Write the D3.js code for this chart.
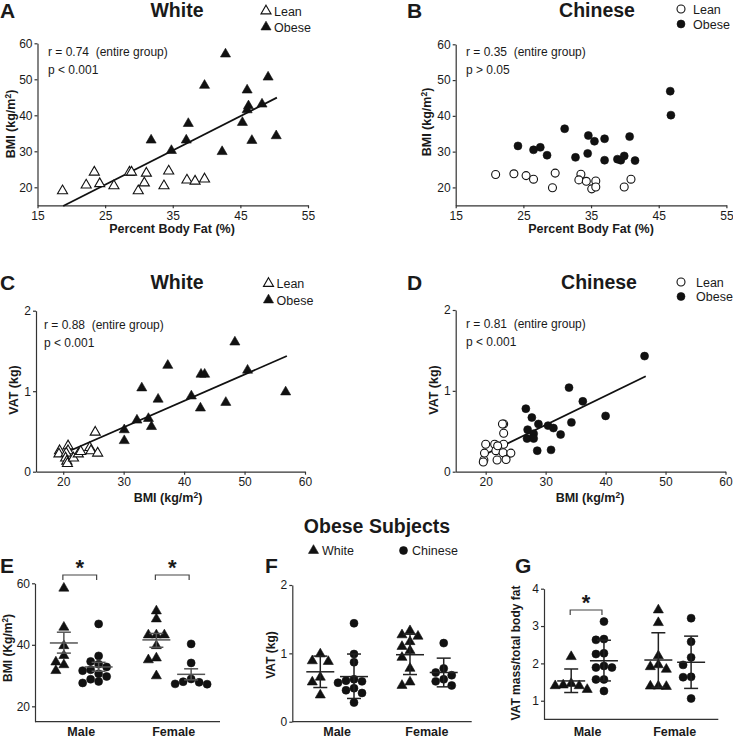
<!DOCTYPE html>
<html>
<head>
<meta charset="utf-8">
<script src="https://cdn.jsdelivr.net/npm/d3@7"></script>
<style>
  body { margin: 0; background: #fff; }
  svg { font-family: "Liberation Sans", Arial, sans-serif; }
</style>
</head>
<body>
<svg id="fig" width="733" height="739"></svg>
<script>
// ---- data ----
// A: White, percent body fat vs BMI
const whiteLeanFat   = [18.7, 22.2, 23.4, 24.2, 26.3, 28.6, 28.9, 29.9, 30.8, 31.1, 33.7, 34.4, 37.1, 38.3, 39.7];
const whiteLeanBmi   = [19.0, 20.6, 24.2, 21.0, 20.4, 24.2, 24.2, 19.0, 21.2, 23.9, 20.4, 24.5, 22.0, 21.7, 22.3];
const whiteObeseFat  = [31.8, 34.8, 37.0, 37.3, 39.7, 42.8, 42.3, 45.3, 46.0, 46.2, 46.0, 46.7, 48.2, 49.1, 50.3];
const whiteObeseBmi  = [33.1, 30.2, 33.1, 37.7, 48.3, 57.0, 29.9, 38.0, 47.0, 42.6, 41.5, 33.0, 43.1, 50.6, 34.3];
const fitA = [[18.8, 14.8], [50.4, 44.9]];

// B: Chinese, percent body fat vs BMI
const chineseLeanFat  = [20.9, 23.6, 25.4, 26.5, 29.3, 29.7, 33.5, 33.2, 34.3, 35.1, 35.7, 35.7, 39.9, 40.9];
const chineseLeanBmi  = [23.6, 23.8, 23.3, 22.3, 19.9, 24.0, 23.7, 22.1, 21.7, 19.6, 21.8, 20.1, 20.1, 22.3];
const chineseObeseFat = [24.2, 26.5, 27.5, 28.5, 31.1, 32.7, 34.5, 34.6, 35.5, 37.0, 37.0, 38.9, 39.4, 39.9, 40.7, 41.5, 46.7, 46.8];
const chineseObeseBmi = [31.6, 30.5, 31.2, 29.0, 36.4, 28.4, 29.5, 34.5, 32.9, 33.6, 27.6, 27.9, 27.6, 28.8, 34.2, 27.5, 46.9, 40.2];

// C: White, BMI vs VAT
const whiteLeanBmiC  = [19.4, 19.3, 20.8, 20.8, 20.5, 20.4, 20.6, 20.7, 21.7, 22.5, 22.9, 24.4, 24.6, 25.3, 25.7];
const whiteLeanVat   = [0.26, 0.22, 0.32, 0.26, 0.23, 0.17, 0.13, 0.10, 0.17, 0.22, 0.25, 0.30, 0.26, 0.49, 0.23];
const whiteObeseBmiC = [30.1, 30.1, 32.2, 33.0, 34.1, 34.6, 35.7, 37.3, 41.2, 42.7, 42.8, 43.4, 46.9, 48.4, 50.5, 56.8];
const whiteObeseVat  = [0.385, 0.52, 0.64, 1.04, 0.66, 0.56, 0.90, 1.32, 0.94, 0.79, 1.21, 1.21, 0.86, 1.61, 1.26, 0.99];
const fitC = [[19.6, 0.21], [57.0, 1.437]];

// D: Chinese, BMI vs VAT
const chineseLeanBmiD  = [19.7, 19.6, 19.8, 20.0, 21.5, 21.7, 21.9, 23.0, 22.8, 23.0, 23.0, 22.9, 24.2, 23.4, 22.0];
const chineseLeanVat   = [0.145, 0.12, 0.23, 0.34, 0.34, 0.26, 0.145, 0.59, 0.59, 0.475, 0.34, 0.235, 0.23, 0.15, 0.32];
const chineseObeseBmiD = [26.7, 27.0, 26.9, 27.7, 28.0, 28.0, 28.6, 28.8, 30.4, 31.3, 30.9, 32.5, 33.9, 34.3, 36.2, 40.0, 46.5];
const chineseObeseVat  = [0.78, 0.52, 0.41, 0.67, 0.47, 0.41, 0.26, 0.59, 0.57, 0.54, 0.27, 0.46, 1.04, 0.61, 0.87, 0.69, 1.43];
const fitD = [[19.8, 0.21], [46.7, 1.18]];

// E-G: obese subjects by sex and ethnicity (order: male white, male chinese, female white, female chinese)
const sexes = ["Male", "Female"];
const ethnicities = ["White", "Chinese"];

const bmiMaleWhite     = [58.4, 45.7, 39.7, 36.5, 34.4, 33.5, 31.6];
const bmiMaleChinese   = [46.8, 36.4, 34.6, 33.7, 32.8, 31.9, 31.6, 30.6, 29.7, 28.8, 28.1, 27.6];
const bmiFemaleWhite   = [51.0, 48.4, 43.2, 43.2, 43.2, 39.7, 35.7, 35.1, 29.9];
const bmiFemaleChinese = [40.3, 34.1, 28.9, 28.0, 27.8, 27.3, 27.2];
const bmiStats = [[40.6, 37.3, 44.1], [32.8, 31.4, 34.3], [41.6, 39.2, 43.7], [30.4, 28.6, 32.2]];

const vatMaleWhite     = [0.99, 0.89, 0.88, 0.65, 0.58, 0.39];
const vatMaleChinese   = [1.44, 0.99, 0.87, 0.62, 0.60, 0.59, 0.57, 0.49, 0.46, 0.42, 0.28];
const vatFemaleWhite   = [1.33, 1.27, 1.25, 1.17, 1.10, 1.04, 0.94, 0.78, 0.58, 0.53];
const vatFemaleChinese = [1.15, 0.78, 0.72, 0.68, 0.62, 0.59, 0.53];
const vatStats = [[0.73, 0.50, 0.96], [0.66, 0.34, 0.99], [0.98, 0.69, 1.28], [0.72, 0.51, 0.93]];

const ratioMaleWhite     = [2.18, 1.46, 1.42, 1.40, 1.40, 1.30];
const ratioMaleChinese   = [3.12, 2.65, 2.63, 2.27, 2.25, 1.93, 1.89, 1.89, 1.57, 1.57, 1.26];
const ratioFemaleWhite   = [3.43, 3.09, 2.20, 1.96, 1.91, 1.84, 1.39, 1.39, 1.38];
const ratioFemaleChinese = [3.21, 2.58, 2.16, 1.96, 1.64, 1.63, 1.06];
const ratioStats = [[1.53, 1.22, 1.85], [2.07, 1.53, 2.62], [2.09, 1.36, 2.82], [2.03, 1.33, 2.73]];

// ---- drawing ----
const svg = d3.select("#fig");
const ink = "#1a1a1a";
const tri = d3.symbol().type(d3.symbolTriangle).size(44)();
const dot = d3.symbol().type(d3.symbolCircle).size(50)();
const plain = d => String(d);

function styleAxis(g) {
  g.attr("font-family", null).attr("font-size", null);
  g.selectAll("path, line").attr("stroke", "#333").attr("stroke-width", 1.2);
  g.selectAll("text").attr("fill", ink).style("font-size", "12px");
}

function supLabel(t, pre, sup, post) {
  t.append("tspan").text(pre);
  t.append("tspan").attr("font-size", "0.68em").attr("dy", "-0.5em").text(sup);
  t.append("tspan").attr("dy", "0.34em").text(post);
}

function text(x, y, str, size, weight, anchor) {
  return svg.append("text").attr("x", x).attr("y", y)
    .attr("font-size", size).attr("font-weight", weight || "normal")
    .attr("text-anchor", anchor || "start").attr("fill", ink)
    .style("white-space", "pre").text(str);
}

function marker(g, shape, open, x, y) {
  g.append("path").attr("d", shape)
    .attr("transform", `translate(${x},${y})`)
    .attr("fill", open ? "#fff" : "#111")
    .attr("stroke", "#111").attr("stroke-width", open ? 1.1 : 0.6);
}

function scatterPanel(c) {
  const g = svg.append("g");
  const x = d3.scaleLinear().domain(c.xDomain).range(c.xRange);
  const y = d3.scaleLinear().domain(c.yDomain).range(c.yRange);

  g.append("g").attr("transform", `translate(0,${c.yRange[0]})`)
    .call(d3.axisBottom(x).tickValues(c.xTicks).tickFormat(plain).tickSize(3).tickPadding(3).tickSizeOuter(0))
    .call(styleAxis);
  g.append("g").attr("transform", `translate(${c.xRange[0]},0)`)
    .call(d3.axisLeft(y).tickValues(c.yTicks).tickFormat(plain).tickSize(3).tickPadding(2).tickSizeOuter(0))
    .call(styleAxis);

  if (c.fit) {
    g.append("line")
      .attr("x1", x(c.fit[0][0])).attr("y1", y(c.fit[0][1]))
      .attr("x2", x(c.fit[1][0])).attr("y2", y(c.fit[1][1]))
      .attr("stroke", "#111").attr("stroke-width", 1.8);
  }

  c.leanX.forEach((v, i) => marker(g, c.shape, true, x(v), y(c.leanY[i])));
  c.obeseX.forEach((v, i) => marker(g, c.shape, false, x(v), y(c.obeseY[i])));

  // r / p annotation
  text(c.annX, c.annY, c.rText, 12);
  text(c.annX, c.annY + 18, c.pText, 12);

  // title, panel letter, legend
  text(c.titleX, c.titleY, c.title, 19.5, "bold", "middle");
  text(c.letterX, c.titleY + 1, c.letter, 21, "bold");
  marker(svg, c.shape, true, c.legX, c.legY);
  marker(svg, c.shape, false, c.legX, c.legY + c.legGap);
  text(c.legX + c.legText, c.legY + 4.5, "Lean", 12.5);
  text(c.legX + c.legText, c.legY + c.legGap + 4.5, "Obese", 12.5);

  // axis titles
  const xl = svg.append("text").attr("x", c.xLabX).attr("y", c.xLabY)
    .attr("text-anchor", "middle").attr("font-size", 12.5).attr("font-weight", "bold").attr("fill", ink);
  if (c.xLabSup) supLabel(xl, c.xLab, "2", ")"); else xl.text(c.xLab);
  const yl = svg.append("text")
    .attr("transform", `translate(${c.yLabX},${c.yLabY}) rotate(-90)`)
    .attr("text-anchor", "middle").attr("font-size", 12.5).attr("font-weight", "bold").attr("fill", ink);
  if (c.yLabSup) supLabel(yl, c.yLab, "2", ")"); else yl.text(c.yLab);
}

// simple dodge so overlapping points in a column sit side by side
function dodge(vals, y, step, diam) {
  const order = vals.map((v, i) => i).sort((a, b) => vals[b] - vals[a]);
  const placed = [], off = [];
  order.forEach(i => {
    const py = y(vals[i]);
    for (let k = 0; k < 30; k++) {
      const o = k === 0 ? 0 : (k % 2 ? -1 : 1) * Math.ceil(k / 2) * step;
      if (placed.every(p => Math.hypot(p[0] - o, p[1] - py) >= diam)) {
        off[i] = o; placed.push([o, py]); break;
      }
    }
  });
  return off;
}

function dotPanel(c) {
  const g = svg.append("g");
  const y = d3.scaleLinear().domain(c.yDomain).range([c.bottom, c.top]);
  const xo = d3.scaleBand().domain(sexes).range([c.left, c.right]);
  const xi = d3.scalePoint().domain(ethnicities).range([0, xo.bandwidth()]).padding(0.83);

  g.append("g").attr("transform", `translate(${c.left},0)`)
    .call(d3.axisLeft(y).tickValues(c.yTicks).tickFormat(plain).tickSize(3).tickPadding(2).tickSizeOuter(0))
    .call(styleAxis);
  g.append("line").attr("x1", c.left).attr("x2", c.right)
    .attr("y1", c.bottom).attr("y2", c.bottom)
    .attr("stroke", "#333").attr("stroke-width", 1.2);

  c.groups.forEach((vals, k) => {
    const sex = sexes[k >> 1], eth = ethnicities[k % 2];
    const cx = xo(sex) + xi(eth);
    const offs = dodge(vals, y, 8, 7.6);
    vals.forEach((v, i) => marker(g, eth === "White" ? tri : dot, false, cx + offs[i], y(v)));

    const [m, lo, hi] = c.stats[k];
    const s = g.append("g").attr("stroke", c.statColor).attr("stroke-width", 1.5);
    s.append("line").attr("x1", cx).attr("x2", cx).attr("y1", y(lo)).attr("y2", y(hi));
    [lo, hi].forEach(v => s.append("line").attr("x1", cx - 7).attr("x2", cx + 7).attr("y1", y(v)).attr("y2", y(v)));
    s.append("line").attr("x1", cx - 14).attr("x2", cx + 14).attr("y1", y(m)).attr("y2", y(m));
  });

  sexes.forEach(sx => text(xo(sx) + xo.bandwidth() / 2, 736, sx, 12.5, "bold", "middle"));

  c.sig.forEach(sx => {
    const x1 = xo(sx) + xi("White") - 1, x2 = xo(sx) + xi("Chinese") - 2;
    g.append("path")
      .attr("d", `M${x1},${c.sigY + 5}V${c.sigY}H${x2}V${c.sigY + 5}`)
      .attr("fill", "none").attr("stroke", "#444").attr("stroke-width", 1.2);
    text((x1 + x2) / 2, c.sigY, "*", 22, "bold", "middle");
  });

  text(c.letterX, 573, c.letter, 21, "bold");
  const yl = svg.append("text")
    .attr("transform", `translate(${c.yLabX},${c.yLabY}) rotate(-90)`)
    .attr("text-anchor", "middle").attr("font-size", 12).attr("font-weight", "bold").attr("fill", ink);
  if (c.yLabSup) supLabel(yl, c.yLab, "2", ")"); else yl.text(c.yLab);
}

scatterPanel({
  xDomain: [15, 55], xRange: [37.5, 308], yDomain: [15, 60], yRange: [205.3, 43.3],
  xTicks: [15, 25, 35, 45, 55], yTicks: [20, 30, 40, 50, 60], shape: tri,
  leanX: whiteLeanFat, leanY: whiteLeanBmi, obeseX: whiteObeseFat, obeseY: whiteObeseBmi, fit: fitA,
  annX: 48, annY: 56, rText: "r = 0.74  (entire group)", pText: "p < 0.001",
  title: "White", titleX: 177, titleY: 17, letter: "A", letterX: 0,
  legX: 266, legY: 11, legGap: 16, legText: 8,
  xLab: "Percent Body Fat (%)", xLabX: 172, xLabY: 233,
  yLab: "BMI (kg/m", yLabSup: true, yLabX: 15, yLabY: 124
});

scatterPanel({
  xDomain: [15, 55], xRange: [455.7, 726.4], yDomain: [15, 60], yRange: [205.3, 44.3],
  xTicks: [15, 25, 35, 45, 55], yTicks: [20, 30, 40, 50, 60], shape: dot,
  leanX: chineseLeanFat, leanY: chineseLeanBmi, obeseX: chineseObeseFat, obeseY: chineseObeseBmi, fit: null,
  annX: 466, annY: 56, rText: "r = 0.35  (entire group)", pText: "p > 0.05",
  title: "Chinese", titleX: 597, titleY: 17, letter: "B", letterX: 407,
  legX: 681, legY: 9, legGap: 15, legText: 12,
  xLab: "Percent Body Fat (%)", xLabX: 591, xLabY: 233,
  yLab: "BMI (kg/m", yLabSup: true, yLabX: 431, yLabY: 122
});

scatterPanel({
  xDomain: [15.5, 60], xRange: [36, 305], yDomain: [0, 2], yRange: [471.7, 310.7],
  xTicks: [20, 30, 40, 50, 60], yTicks: [0, 1, 2], shape: tri,
  leanX: whiteLeanBmiC, leanY: whiteLeanVat, obeseX: whiteObeseBmiC, obeseY: whiteObeseVat, fit: fitC,
  annX: 44, annY: 329, rText: "r = 0.88  (entire group)", pText: "p < 0.001",
  title: "White", titleX: 177, titleY: 288.5, letter: "C", letterX: 0,
  legX: 268.5, legY: 283.5, legGap: 16.5, legText: 8,
  xLab: "BMI (kg/m", xLabSup: true, xLabX: 168, xLabY: 502,
  yLab: "VAT (kg)", yLabX: 18, yLabY: 390
});

scatterPanel({
  xDomain: [15, 60], xRange: [455.7, 725.5], yDomain: [0, 2], yRange: [471.7, 310],
  xTicks: [20, 30, 40, 50, 60], yTicks: [0, 1, 2], shape: dot,
  leanX: chineseLeanBmiD, leanY: chineseLeanVat, obeseX: chineseObeseBmiD, obeseY: chineseObeseVat, fit: fitD,
  annX: 466, annY: 328, rText: "r = 0.81  (entire group)", pText: "p < 0.001",
  title: "Chinese", titleX: 599, titleY: 289, letter: "D", letterX: 407,
  legX: 681, legY: 282, legGap: 14.5, legText: 15,
  xLab: "BMI (kg/m", xLabSup: true, xLabX: 590, xLabY: 502,
  yLab: "VAT (kg)", yLabX: 438, yLabY: 390
});

dotPanel({
  yDomain: [15, 60], yTicks: [20, 40, 60], top: 583.3, bottom: 721.7, left: 35, right: 220,
  groups: [bmiMaleWhite, bmiMaleChinese, bmiFemaleWhite, bmiFemaleChinese], stats: bmiStats,
  statColor: "#555", sig: ["Male", "Female"], sigY: 575,
  letter: "E", letterX: 0, yLab: "BMI (Kg/m", yLabSup: true, yLabX: 12, yLabY: 648
});

dotPanel({
  yDomain: [0, 2], yTicks: [0, 1, 2], top: 585, bottom: 721.7, left: 292.3, right: 471.7,
  groups: [vatMaleWhite, vatMaleChinese, vatFemaleWhite, vatFemaleChinese], stats: vatStats,
  statColor: "#222", sig: [], sigY: 0,
  letter: "F", letterX: 265, yLab: "VAT (kg)", yLabX: 275, yLabY: 655
});

dotPanel({
  yDomain: [0.5, 4], yTicks: [1, 2, 3, 4], top: 588.7, bottom: 719.4, left: 544, right: 718.3,
  groups: [ratioMaleWhite, ratioMaleChinese, ratioFemaleWhite, ratioFemaleChinese], stats: ratioStats,
  statColor: "#222", sig: ["Male"], sigY: 610,
  letter: "G", letterX: 515, yLab: "VAT mass/total body fat", yLabX: 520, yLabY: 653
});

// shared heading for E-G
text(377, 533, "Obese Subjects", 19.5, "bold", "middle");
marker(svg, tri, false, 313.5, 550.5);
text(322, 555, "White", 12.5);
marker(svg, dot, false, 403.5, 550.5);
text(412, 555, "Chinese", 12.5);
</script>
</body>
</html>
